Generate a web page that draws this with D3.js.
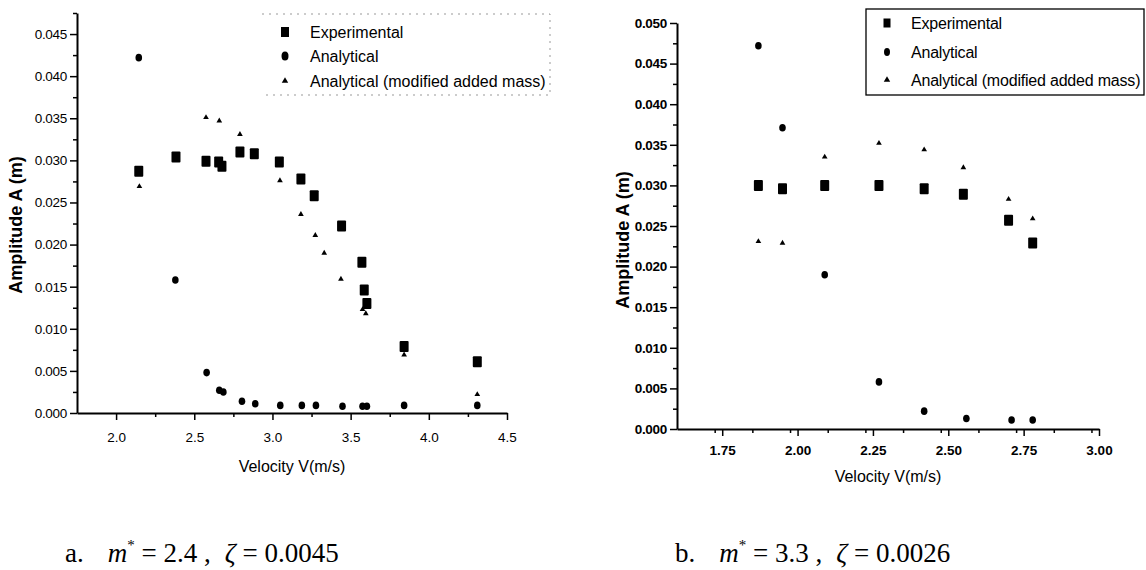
<!DOCTYPE html>
<html><head><meta charset="utf-8">
<script src="https://cdn.jsdelivr.net/npm/d3@7"></script>
<style>body{margin:0;background:#fff}svg{display:block}</style>
</head><body>
<svg id="c" width="1146" height="570"></svg>
<script>
// ---- Data ----
const legendLabels = ["Experimental", "Analytical", "Analytical (modified added mass)"];

// Panel a: m* = 2.4, zeta = 0.0045
const velA_exp = [2.145, 2.383, 2.575, 2.656, 2.677, 2.792, 2.884, 3.044, 3.182, 3.267, 3.442, 3.572, 3.587, 3.604, 3.842, 4.31];
const ampA_exp = [0.0287, 0.0304, 0.0299, 0.0298, 0.0293, 0.0310, 0.0308, 0.0298, 0.0278, 0.0258, 0.0222, 0.0179, 0.0146, 0.0130, 0.0079, 0.0061];
const velA_ana = [2.145, 2.379, 2.579, 2.660, 2.686, 2.805, 2.890, 3.050, 3.188, 3.278, 3.448, 3.576, 3.604, 3.842, 4.31];
const ampA_ana = [0.0422, 0.0158, 0.0048, 0.0027, 0.0025, 0.0014, 0.0011, 0.0009, 0.0009, 0.0009, 0.0008, 0.0008, 0.0008, 0.0009, 0.0009];
const velA_mod = [2.149, 2.575, 2.660, 2.792, 3.048, 3.182, 3.274, 3.331, 3.438, 3.576, 3.597, 3.842, 4.31];
const ampA_mod = [0.0269, 0.0351, 0.0347, 0.0331, 0.0276, 0.0236, 0.0211, 0.0190, 0.0159, 0.0123, 0.0118, 0.0069, 0.0022];
const xTicksA = ["2.0", "2.5", "3.0", "3.5", "4.0", "4.5"];
const yTicksA = ["0.000", "0.005", "0.010", "0.015", "0.020", "0.025", "0.030", "0.035", "0.040", "0.045"];

// Panel b: m* = 3.3, zeta = 0.0026
const velB_exp = [1.87, 1.95, 2.09, 2.27, 2.42, 2.55, 2.70, 2.78];
const ampB_exp = [0.0300, 0.0296, 0.0300, 0.0300, 0.0296, 0.0289, 0.0257, 0.0229];
const velB_ana = [1.87, 1.95, 2.09, 2.27, 2.42, 2.56, 2.71, 2.78];
const ampB_ana = [0.0472, 0.0371, 0.0190, 0.0058, 0.0022, 0.0013, 0.0011, 0.0011];
const velB_mod = [1.87, 1.95, 2.09, 2.27, 2.42, 2.55, 2.70, 2.78];
const ampB_mod = [0.0231, 0.0229, 0.0335, 0.0352, 0.0344, 0.0322, 0.0283, 0.0259];
const xTicksB = ["1.75", "2.00", "2.25", "2.50", "2.75", "3.00"];
const yTicksB = ["0.000", "0.005", "0.010", "0.015", "0.020", "0.025", "0.030", "0.035", "0.040", "0.045", "0.050"];

const captionA = {label: "a.", m: "2.4", z: "0.0045"};
const captionB = {label: "b.", m: "3.3", z: "0.0026"};

// ---- Drawing ----
const svg = d3.select("#c");
const FONT = "Arial, 'Liberation Sans', sans-serif";

function zip(xs, ys) { return xs.map((x, i) => ({x, y: ys[i]})); }

function panel(cfg) {
  const g = svg.append("g");
  const x = d3.scaleLinear().domain(cfg.xDomain).range([cfg.left, cfg.right]);
  const y = d3.scaleLinear().domain(cfg.yDomain).range([cfg.bottom, cfg.top]);

  const xMajor = cfg.xTicks.map(Number);
  const yMajor = cfg.yTicks.map(Number);
  const xMinor = d3.range(cfg.xDomain[0], cfg.xDomain[1] + 1e-9, cfg.xMinorStep)
      .filter(v => !xMajor.some(m => Math.abs(m - v) < 1e-6) && v > cfg.xDomain[0] + 1e-6);
  const yMinor = d3.range(0, cfg.yDomain[1] + 1e-9, cfg.yMinorStep)
      .filter(v => !yMajor.some(m => Math.abs(m - v) < 1e-7) && v > 1e-7);

  const xa = g.append("g").attr("transform", `translate(0,${cfg.bottom})`)
    .call(d3.axisBottom(x).tickValues(xMajor).tickSize(7).tickSizeOuter(0)
      .tickFormat((d, i) => cfg.xTicks[i]));
  g.append("g").attr("transform", `translate(0,${cfg.bottom})`)
    .call(d3.axisBottom(x).tickValues(xMinor).tickSize(4).tickSizeOuter(0).tickFormat(""))
    .select(".domain").remove();
  const ya = g.append("g").attr("transform", `translate(${cfg.left},0)`)
    .call(d3.axisLeft(y).tickValues(yMajor).tickSize(7).tickSizeOuter(0)
      .tickFormat((d, i) => cfg.yTicks[i]));
  g.append("g").attr("transform", `translate(${cfg.left},0)`)
    .call(d3.axisLeft(y).tickValues(yMinor).tickSize(4).tickSizeOuter(0).tickFormat(""))
    .select(".domain").remove();

  g.selectAll(".domain").attr("stroke", "#000").attr("stroke-width", 2);
  g.selectAll(".tick line").attr("stroke", "#000").attr("stroke-width", 1.5);
  xa.selectAll("text").attr("font-family", FONT).attr("font-size", cfg.tickFont)
    .attr("font-weight", cfg.tickWeight).attr("fill", "#000").attr("dy", cfg.xLabDy);
  ya.selectAll("text").attr("font-family", FONT).attr("font-size", cfg.tickFont)
    .attr("font-weight", cfg.tickWeight).attr("fill", "#000").attr("letter-spacing", "-0.3px");

  g.append("text").attr("x", (cfg.left + cfg.right) / 2).attr("y", cfg.xTitleY)
    .attr("text-anchor", "middle").attr("font-family", FONT).attr("font-size", 16)
    .text("Velocity V(m/s)");
  g.append("text").attr("transform", `translate(${cfg.yTitleX},${cfg.yTitleY}) rotate(-90)`)
    .attr("text-anchor", "middle").attr("font-family", FONT).attr("font-size", 18)
    .attr("font-weight", "bold").text("Amplitude A (m)");

  const tri = d3.symbol().type(d3.symbolTriangle);
  g.append("g").selectAll("rect").data(zip(cfg.exp[0], cfg.exp[1])).join("rect")
    .attr("x", d => x(d.x) - 4.5).attr("y", d => y(d.y) - 5.5)
    .attr("width", 9).attr("height", 11).attr("rx", 1).attr("fill", "#000");
  g.append("g").selectAll("ellipse").data(zip(cfg.ana[0], cfg.ana[1])).join("ellipse")
    .attr("cx", d => x(d.x)).attr("cy", d => y(d.y)).attr("rx", 3.3).attr("ry", 3.8).attr("fill", "#000");
  g.append("g").selectAll("path").data(zip(cfg.mod[0], cfg.mod[1])).join("path")
    .attr("transform", d => `translate(${x(d.x)},${y(d.y)})`)
    .attr("d", tri.size(14)()).attr("fill", "#000");

  const L = cfg.legend;
  const lg = g.append("g");
  if (L.box) {
    lg.append("rect").attr("x", L.bx).attr("y", L.by).attr("width", L.bw).attr("height", L.bh)
      .attr("fill", "none").attr("stroke", "#000").attr("stroke-width", 1.3);
  } else {
    lg.append("path").attr("d", `M${L.bx},${L.by}H${L.bx + L.bw}V${L.by + L.bh}H${L.bx}`)
      .attr("fill", "none").attr("stroke", "#999").attr("stroke-width", 1)
      .attr("stroke-dasharray", "2,5");
  }
  legendLabels.forEach((lab, i) => {
    const cy = L.rows[i];
    if (i === 0) lg.append("rect").attr("x", L.mx - L.sq[0] / 2).attr("y", cy - L.sq[1] / 2)
      .attr("width", L.sq[0]).attr("height", L.sq[1]).attr("fill", "#000");
    if (i === 1) lg.append("ellipse").attr("cx", L.mx).attr("cy", cy).attr("rx", L.sq[0] / 2 - 0.5)
      .attr("ry", L.sq[1] / 2 - 0.5).attr("fill", "#000");
    if (i === 2) lg.append("path").attr("transform", `translate(${L.mx},${cy})`)
      .attr("d", tri.size(18)()).attr("fill", "#000");
    lg.append("text").attr("x", L.tx).attr("y", cy).attr("dy", "0.35em")
      .attr("font-family", FONT).attr("font-size", L.font).attr("font-weight", L.weight)
      .attr("letter-spacing", L.ls).text(lab);
  });

  const c = cfg.caption;
  const t = svg.append("text").attr("x", cfg.capX).attr("y", cfg.capY)
    .attr("font-family", "'Liberation Serif', 'Times New Roman', serif").attr("font-size", 27);
  t.append("tspan").text(c.label);
  t.append("tspan").attr("dx", 24).attr("font-style", "italic").text("m");
  t.append("tspan").attr("font-size", 15).attr("dy", -12).text("*");
  t.append("tspan").attr("dy", 12).text(" = " + c.m + " ,");
  t.append("tspan").attr("dx", 14).attr("font-style", "italic").text("ζ");
  t.append("tspan").text(" = " + c.z);
}

panel({
  xDomain: [1.75, 4.5], yDomain: [0, 0.0475], left: 77, right: 507, top: 13, bottom: 413,
  xTicks: xTicksA, yTicks: yTicksA, xMinorStep: 0.25, yMinorStep: 0.0025,
  tickFont: 13.5, tickWeight: "normal", xLabDy: "1.4em",
  xTitleY: 472, yTitleX: 22, yTitleY: 225,
  exp: [velA_exp, ampA_exp], ana: [velA_ana, ampA_ana], mod: [velA_mod, ampA_mod],
  legend: {box: false, bx: 262, by: 14, bw: 288, bh: 81, mx: 285, tx: 310, rows: [32, 56, 81],
           sq: [8, 10], font: 16, weight: "normal", ls: "0px"},
  caption: captionA, capX: 65, capY: 562
});

panel({
  xDomain: [1.6, 3.0], yDomain: [0, 0.050], left: 677, right: 1099, top: 23, bottom: 429,
  xTicks: xTicksB, yTicks: yTicksB, xMinorStep: 0.125, yMinorStep: 0.0025,
  tickFont: 13.5, tickWeight: "bold", xLabDy: "1.2em",
  xTitleY: 482, yTitleX: 629, yTitleY: 240,
  exp: [velB_exp, ampB_exp], ana: [velB_ana, ampB_ana], mod: [velB_mod, ampB_mod],
  legend: {box: true, bx: 866, by: 9, bw: 278, bh: 86, mx: 887, tx: 911, rows: [23, 52, 80],
           sq: [7, 9], font: 16, weight: "normal", ls: "-0.2px"},
  caption: captionB, capX: 675, capY: 562
});
</script>
</body></html>
